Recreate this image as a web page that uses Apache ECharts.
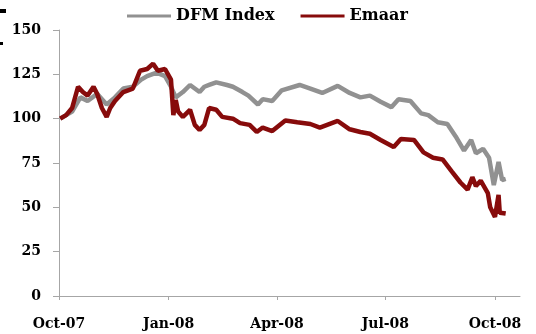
<!DOCTYPE html>
<html>
<head>
<meta charset="utf-8">
<script src="https://cdn.jsdelivr.net/npm/echarts@6/dist/echarts.min.js"></script>
<style>
  html, body { margin: 0; padding: 0; background: #fff; }
  #main { width: 536px; height: 334px; }
</style>
</head>
<body>
<div id="main"></div>
<script>
// 刻度
let tickDates = ['2007-10-01', '2008-01-01', '2008-04-01', '2008-07-01', '2008-10-01'],
    tickLabels = ['Oct-07', 'Jan-08', 'Apr-08', 'Jul-08', 'Oct-08'];

// DFM Index
let dfmDates = ['2007-10-02','2007-10-12','2007-10-19','2007-10-25','2007-11-02','2007-11-10','2007-11-17','2007-11-24',
    '2007-12-02','2007-12-09','2007-12-14','2007-12-22','2007-12-29','2008-01-03','2008-01-07','2008-01-13','2008-01-19',
    '2008-01-27','2008-01-31','2008-02-04','2008-02-10','2008-02-19','2008-02-24','2008-03-03','2008-03-08','2008-03-16',
    '2008-03-20','2008-03-28','2008-04-05','2008-04-20','2008-04-29','2008-05-09','2008-05-22','2008-06-01','2008-06-10',
    '2008-06-18','2008-06-27','2008-07-06','2008-07-12','2008-07-22','2008-07-31','2008-08-06','2008-08-14','2008-08-22',
    '2008-08-29','2008-09-05','2008-09-11','2008-09-15','2008-09-21','2008-09-26','2008-09-30','2008-10-04','2008-10-07','2008-10-10'],
    dfmValues = [100,104,112,110,114,108,112,117,
    118,122,124,126,124,118,112,115,119,
    115,118,119,120.5,119,118,115,113,108,
    111,110,116,119,117,114.5,118.5,114.5,112,
    113,109.5,106.5,111,110,103,102,98,97,
    90,82,88,80.5,83,78,62.6,75.6,65.4,66];

// Emaar
let emaarDates = ['2007-10-02','2007-10-07','2007-10-12','2007-10-17','2007-10-21','2007-10-25','2007-10-30','2007-11-02',
    '2007-11-06','2007-11-10','2007-11-13','2007-11-17','2007-11-24','2007-12-02','2007-12-08','2007-12-14','2007-12-19',
    '2007-12-23','2007-12-29','2008-01-03','2008-01-05','2008-01-07','2008-01-09','2008-01-13','2008-01-19','2008-01-23',
    '2008-01-27','2008-01-31','2008-02-04','2008-02-10','2008-02-15','2008-02-24','2008-03-01','2008-03-09','2008-03-15',
    '2008-03-20','2008-03-28','2008-04-08','2008-04-18','2008-04-29','2008-05-07','2008-05-22','2008-06-01','2008-06-10',
    '2008-06-18','2008-06-27','2008-07-08','2008-07-14','2008-07-25','2008-08-02','2008-08-10','2008-08-18','2008-08-26',
    '2008-09-02','2008-09-08','2008-09-12','2008-09-15','2008-09-19','2008-09-25','2008-09-27','2008-10-01','2008-10-04',
    '2008-10-05','2008-10-10'],
    emaarValues = [100,102,106,118,115,113,118,114,
    106,101,106,110,115,117,127,128,131,
    127,128,122,102,110.5,104,101,105,96.5,
    93.6,96.5,106,105,101,100,97.5,96.5,92.5,
    95,93,99,98,97,95,98.7,94,92.5,
    91.5,88,84,88.5,88,81,78,77,70,
    64,60,67,62,65,58,50,44.6,57,
    47,46.5];

// 日期转为距 2007-10-01 的天数
let day0 = Date.UTC(2007, 9, 1);
let toDay = d => Math.round((Date.parse(d + 'T00:00:00Z') - day0) / 86400000);
let toPairs = (d, v) => d.map((item, index) => [toDay(item), v[index]]);
let tickDays = tickDates.map(toDay);

let font = 'DejaVu Serif';
let myChart = echarts.init(document.getElementById('main'));

myChart.setOption({
    animation: false,
    legend: {
        top: 3,
        left: 122,
        itemWidth: 44,
        itemHeight: 3,
        itemGap: 26,
        icon: 'rect',
        textStyle: { fontFamily: font, fontWeight: 'bold', fontSize: 16, color: '#000' },
        data: ['DFM Index', 'Emaar']
    },
    grid: { left: 59, right: 16, top: 30, bottom: 38 },
    xAxis: {
        type: 'value',
        min: 0,
        max: 387,
        splitLine: { show: false },
        axisLine: { onZero: false, lineStyle: { color: '#a6a6a6', width: 1 } },
        axisTick: {
            show: true,
            length: 4,
            lineStyle: { color: '#a6a6a6' },
            customValues: tickDays
        },
        axisLabel: {
            margin: 21,
            fontFamily: font,
            fontWeight: 'bold',
            fontSize: 14,
            color: '#000',
            customValues: tickDays,
            formatter: function (val) {
                let i = tickDays.indexOf(Math.round(val));
                return i >= 0 ? tickLabels[i] : '';
            }
        }
    },
    yAxis: {
        type: 'value',
        min: 0,
        max: 150,
        interval: 25,
        splitLine: { show: false },
        axisLine: { show: true, lineStyle: { color: '#a6a6a6', width: 1 } },
        axisTick: { show: true, length: 6, lineStyle: { color: '#a6a6a6' } },
        axisLabel: {
            margin: 18,
            fontFamily: font,
            fontWeight: 'bold',
            fontSize: 14,
            color: '#000'
        }
    },
    graphic: [
        { type: 'rect', shape: { x: 0, y: 9, width: 6, height: 4 }, style: { fill: '#000' } },
        { type: 'rect', shape: { x: 0, y: 42, width: 3, height: 3 }, style: { fill: '#000' } }
    ],
    series: [
        {
            name: 'DFM Index',
            type: 'line',
            symbol: 'none',
            lineStyle: { color: '#919191', width: 4.5 },
            itemStyle: { color: '#919191' },
            data: toPairs(dfmDates, dfmValues)
        },
        {
            name: 'Emaar',
            type: 'line',
            symbol: 'none',
            lineStyle: { color: '#870b0b', width: 4.5 },
            itemStyle: { color: '#870b0b' },
            data: toPairs(emaarDates, emaarValues)
        }
    ]
});

window.addEventListener('resize', () => { myChart.resize() });
</script>
</body>
</html>
